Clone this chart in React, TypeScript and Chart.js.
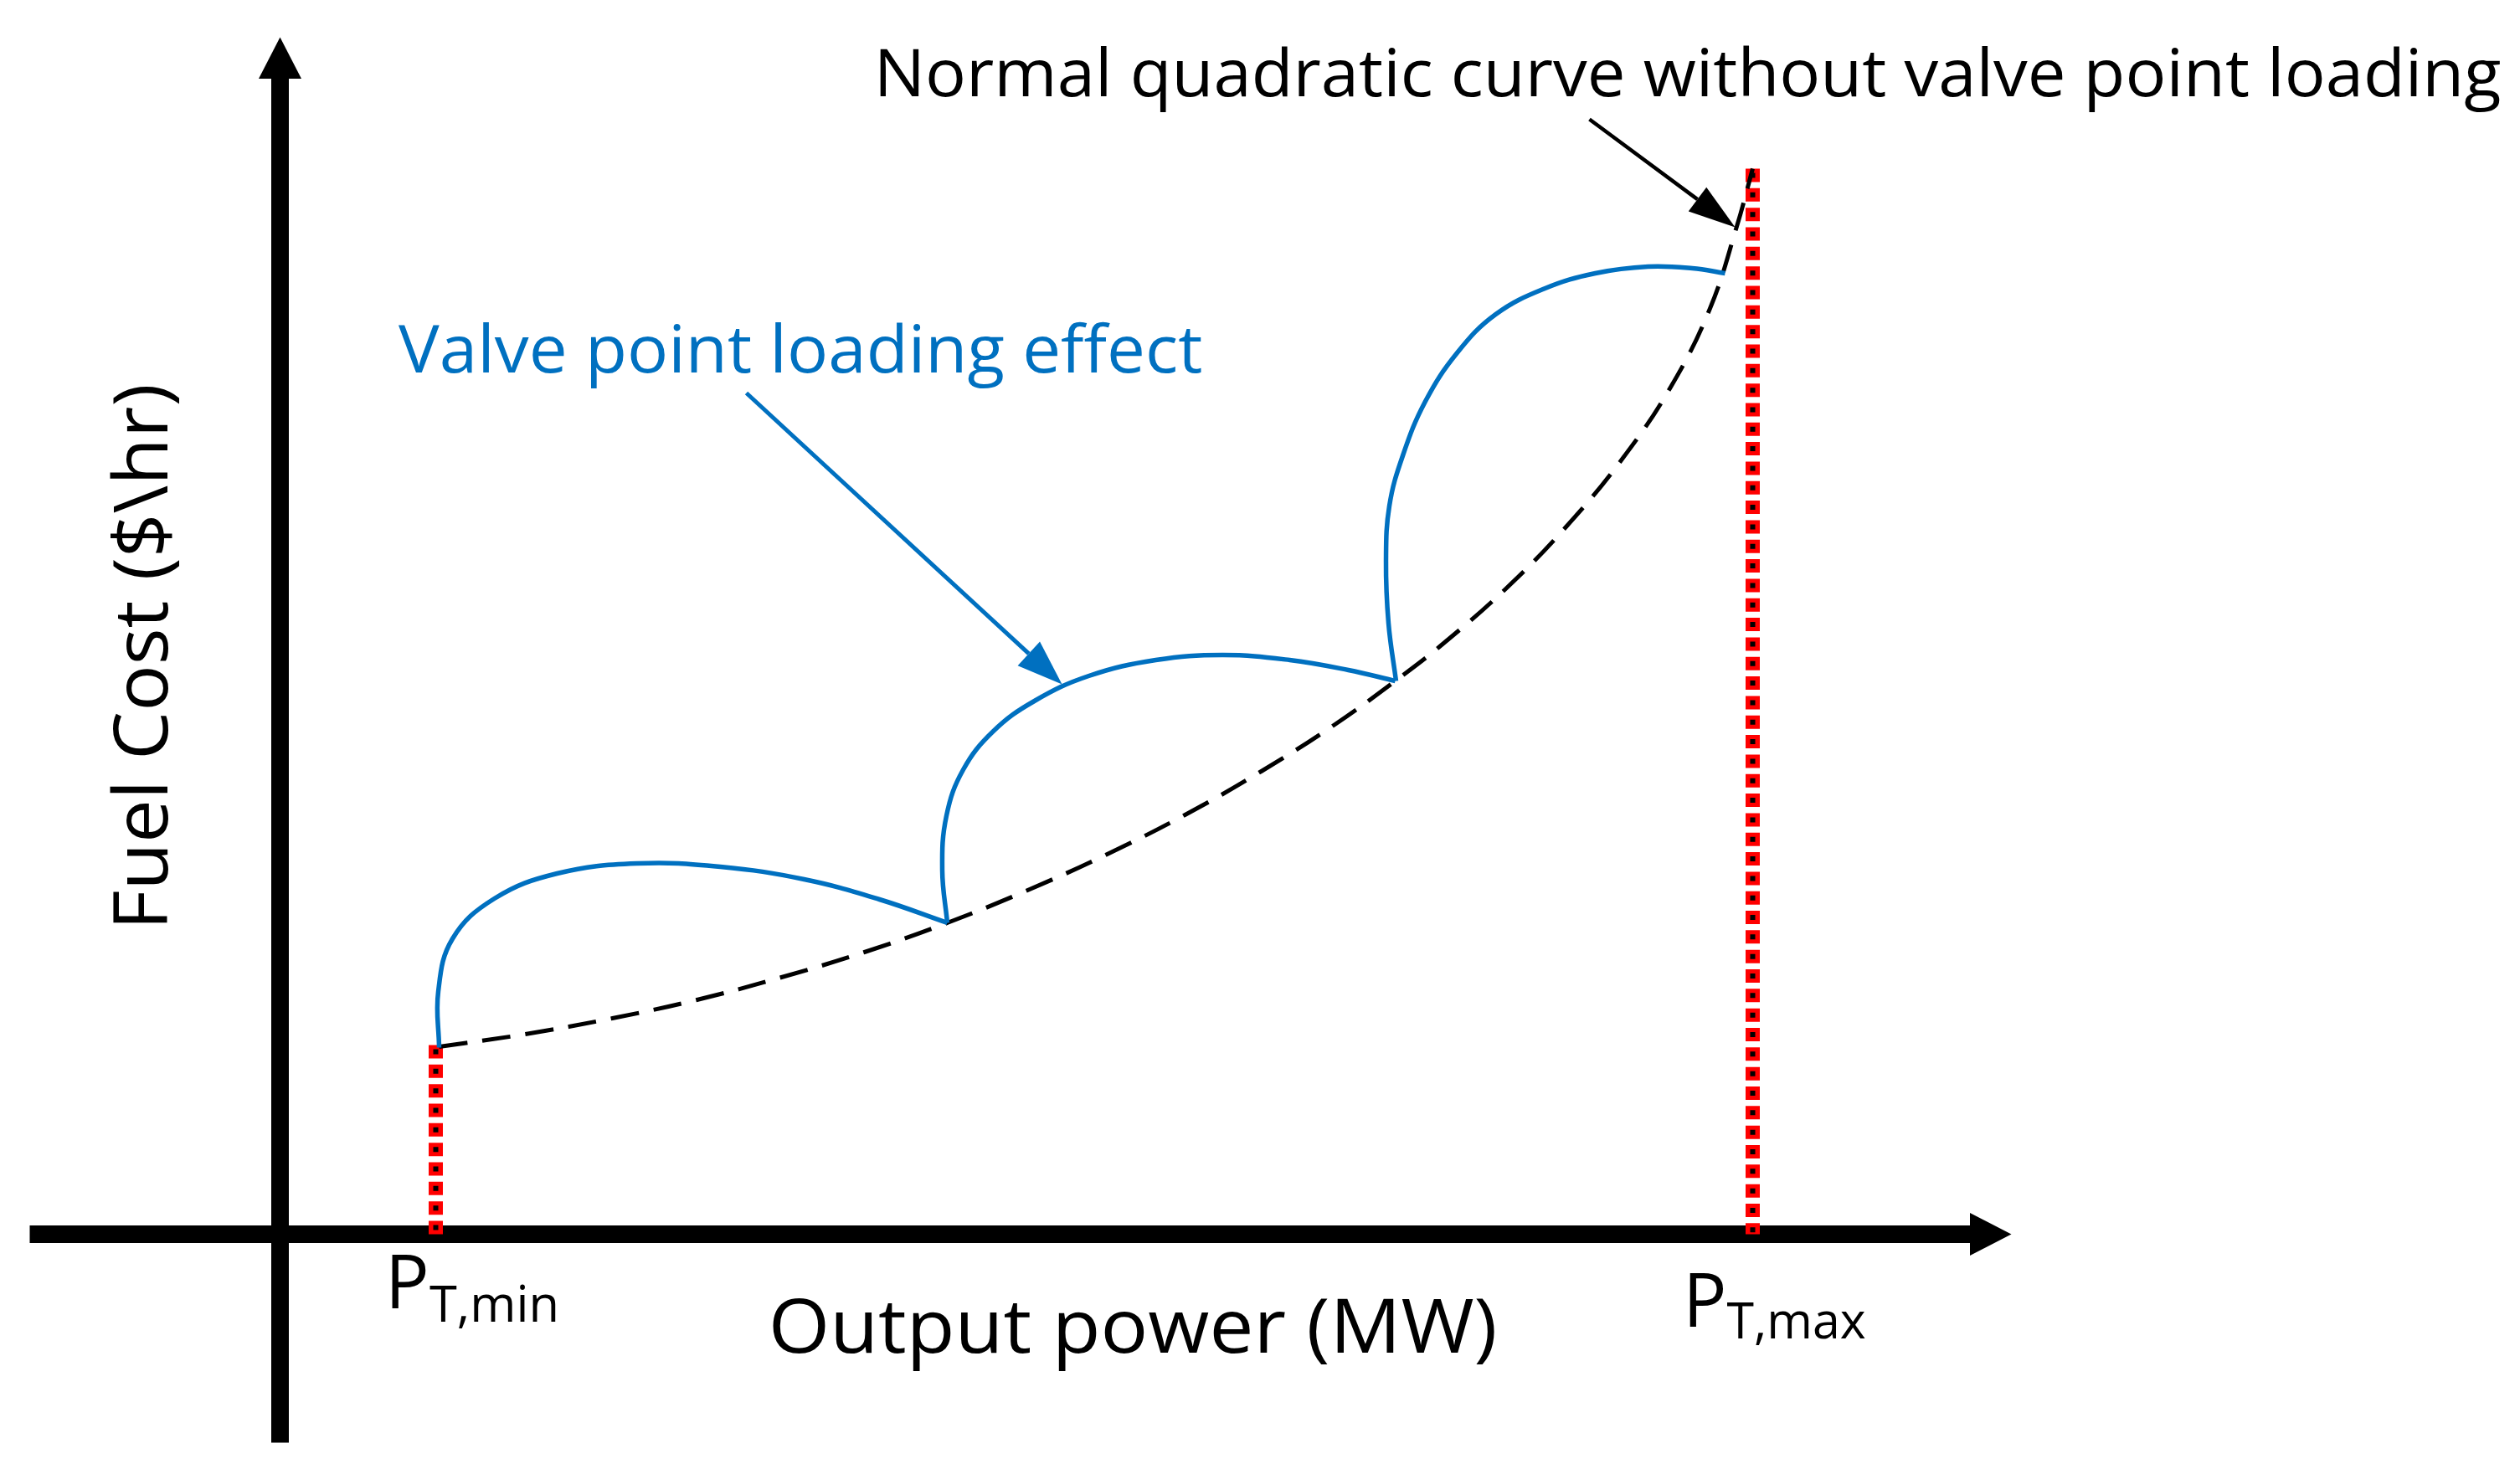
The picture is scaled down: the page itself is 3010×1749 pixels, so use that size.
import React, { useEffect, useRef } from "react";
import { Chart, registerables } from "chart.js";

Chart.register(...registerables);

// ---------------- data (x: output power, y: fuel cost; origin = axes crossing) ----------------
const quadCostX = [19.0, 29.3, 39.7, 49.8, 59.9, 69.8, 79.7, 89.3, 98.8, 108.1, 117.2, 126.0, 133.2, 138.5, 146.4, 153.6, 160.3, 166.1, 170.8, 174.0, 175.9];
const quadCostY = [22.4, 23.9, 25.8, 28.0, 30.7, 33.7, 37.2, 41.1, 45.4, 50.1, 55.3, 60.9, 66.1, 70.2, 77.1, 84.5, 92.6, 101.2, 110.6, 120.4, 127.3];

const valve1X = [19.0, 18.9, 20.6, 25.6, 33.1, 42.6, 52.6, 62.6, 71.6, 79.7];
const valve1Y = [22.3, 29.0, 35.3, 40.1, 43.1, 44.3, 43.9, 42.4, 40.0, 37.2];

const valve2X = [79.7, 79.1, 79.6, 81.6, 85.2, 90.1, 96.6, 104.6, 112.6, 120.6, 127.6, 133.2];
const valve2Y = [37.2, 43.5, 50.0, 55.5, 60.1, 63.7, 66.7, 68.6, 69.2, 68.6, 67.4, 66.1];

const valve3X = [133.3, 132.4, 132.1, 132.5, 134.1, 136.8, 140.6, 145.2, 151.1, 157.1, 163.4, 168.7, 172.6];
const valve3Y = [66.1, 73.0, 80.4, 87.0, 93.0, 99.5, 105.3, 109.9, 113.0, 114.8, 115.6, 115.4, 114.8];

// P_T,min and P_T,max markers (x position, top of the marker)
const pLimitX = [18.6, 175.9];
const pLimitTop = [22.6, 127.3];

// axes spans: [start, arrow tip]
const xAxisSpan = [-29.9, 206.8];
const yAxisSpan = [-24.9, 143.0];

// annotation arrows
const arrowFromX = [55.7, 156.4];
const arrowFromY = [100.5, 133.2];
const arrowToX = [93.4, 173.8];
const arrowToY = [65.7, 120.3];

// texts
const quadNote = "Normal quadratic curve without valve point loading";
const valveNote = "Valve point loading effect";
const xTitle = "Output power (MW)";
const yTitle = "Fuel Cost ($\\hr)";
const pSymbol = "P";
const pSubs = ["T,min", "T,max"];

// ---------------- style / layout ----------------
const FONT = '"Open Sans", "Noto Sans", sans-serif';
const BLUE = "#0070C0";
const RANGE = { xMin: -33.45, xMax: 267.55, yMin: -27.45, yMax: 147.45 };
const AXIS_HEAD = { len: 4.95, half: 2.55 };
const ARROW_STYLE = [
  { color: BLUE, width: 5, len: 5.4, half: 1.95 },
  { color: "#000000", width: 4.5, len: 5.6, half: 1.8 },
];

type Part = { t: string; rel?: number; dy?: number };
type TextItem = { parts: Part[]; x: number; y: number; cap: number; width: number; color: string; rotate?: boolean };

const TEXTS: TextItem[] = [
  { parts: [{ t: quadNote }], x: 71.65, y: 135.95, cap: 57, width: 1935, color: "#000" },
  { parts: [{ t: valveNote }], x: 14.15, y: 102.95, cap: 58, width: 959, color: BLUE },
  { parts: [{ t: xTitle }], x: 58.85, y: -14.15, cap: 65, width: 862, color: "#000" },
  { parts: [{ t: yTitle }], x: -13.45, y: 37.15, cap: 66, width: 642, color: "#000", rotate: true },
  { parts: [{ t: pSymbol }, { t: pSubs[0], rel: 0.68, dy: 16 }], x: 13.35, y: -8.85, cap: 65, width: 196, color: "#000" },
  { parts: [{ t: pSymbol }, { t: pSubs[1], rel: 0.68, dy: 14 }], x: 168.35, y: -11.05, cap: 65, width: 210, color: "#000" },
];

const pts = (xs: number[], ys: number[]) => xs.map((x, i) => ({ x, y: ys[i] }));

function shaftEnd(i: number) {
  const dx = arrowToX[i] - arrowFromX[i];
  const dy = arrowToY[i] - arrowFromY[i];
  const l = Math.hypot(dx, dy);
  const L = ARROW_STYLE[i].len;
  return { x: arrowToX[i] - (dx / l) * L, y: arrowToY[i] - (dy / l) * L };
}

function drawHead(ctx: CanvasRenderingContext2D, tx: number, ty: number, ux: number, uy: number, len: number, half: number, color: string) {
  const bx = tx - ux * len;
  const by = ty - uy * len;
  const nx = -uy, ny = ux;
  ctx.save();
  ctx.fillStyle = color;
  ctx.beginPath();
  ctx.moveTo(tx, ty);
  ctx.lineTo(bx + nx * half, by + ny * half);
  ctx.lineTo(bx - nx * half, by - ny * half);
  ctx.closePath();
  ctx.fill();
  ctx.restore();
}

function drawLabel(ctx: CanvasRenderingContext2D, x: number, y: number, item: TextItem) {
  ctx.save();
  ctx.font = `100px ${FONT}`;
  const capRatio = ctx.measureText("H").actualBoundingBoxAscent / 100 || 0.714;
  const size = item.cap / capRatio;
  let pen = 0;
  let inkLeft: number | null = null;
  let inkRight = 0;
  const starts: number[] = [];
  item.parts.forEach((p) => {
    ctx.font = `${size * (p.rel ?? 1)}px ${FONT}`;
    const m = ctx.measureText(p.t);
    if (inkLeft === null) inkLeft = pen - m.actualBoundingBoxLeft;
    inkRight = pen + m.actualBoundingBoxRight;
    starts.push(pen);
    pen += m.width;
  });
  const sx = item.width / (inkRight - (inkLeft ?? 0));
  ctx.translate(x, y);
  if (item.rotate) ctx.rotate(-Math.PI / 2);
  ctx.scale(sx, 1);
  ctx.translate(-(inkLeft ?? 0), 0);
  ctx.fillStyle = item.color;
  ctx.textAlign = "left";
  ctx.textBaseline = "alphabetic";
  item.parts.forEach((p, i) => {
    ctx.font = `${size * (p.rel ?? 1)}px ${FONT}`;
    ctx.fillText(p.t, starts[i], p.dy ?? 0);
  });
  ctx.restore();
}

const overlayPlugin = {
  id: "overlay",
  afterDatasetsDraw(chart: any) {
    const ctx: CanvasRenderingContext2D = chart.ctx;
    const xs = chart.scales.x;
    const ys = chart.scales.y;
    const px = (v: number) => xs.getPixelForValue(v);
    const py = (v: number) => ys.getPixelForValue(v);
    const unit = px(1) - px(0);

    // axis arrow heads
    drawHead(ctx, px(xAxisSpan[1]), py(0), 1, 0, AXIS_HEAD.len * unit, AXIS_HEAD.half * unit, "#000");
    drawHead(ctx, px(0), py(yAxisSpan[1]), 0, -1, AXIS_HEAD.len * unit, AXIS_HEAD.half * unit, "#000");

    // annotation arrow heads
    arrowToX.forEach((_, i) => {
      const tx = px(arrowToX[i]);
      const ty = py(arrowToY[i]);
      const fx = px(arrowFromX[i]);
      const fy = py(arrowFromY[i]);
      const l = Math.hypot(tx - fx, ty - fy);
      drawHead(ctx, tx, ty, (tx - fx) / l, (ty - fy) / l, ARROW_STYLE[i].len * unit, ARROW_STYLE[i].half * unit, ARROW_STYLE[i].color);
    });

    TEXTS.forEach((t) => drawLabel(ctx, px(t.x), py(t.y), t));
  },
};

export default function App() {
  const canvasRef = useRef<HTMLCanvasElement | null>(null);

  useEffect(() => {
    if (!canvasRef.current) return;
    const line = (data: any[], color: string, width: number, order: number, extra: any = {}) => ({
      data,
      borderColor: color,
      backgroundColor: color,
      borderWidth: width,
      pointRadius: 0,
      pointHoverRadius: 0,
      showLine: true,
      fill: false,
      tension: 0,
      order,
      ...extra,
    });

    const datasets: any[] = [
      line(pts([xAxisSpan[0], xAxisSpan[1] - AXIS_HEAD.len], [0, 0]), "#000", 21, 10),
      line(pts([0, 0], [yAxisSpan[0], yAxisSpan[1] - AXIS_HEAD.len]), "#000", 21, 10),
    ];
    pLimitX.forEach((x, i) => {
      datasets.push(line(pts([x, x], [pLimitTop[i], 0]), "#FF0000", 17, 7, { borderDash: [16, 7.33] }));
      datasets.push(line(pts([x, x], [pLimitTop[i], 0]), "#000000", 6, 6, { borderDash: [6, 17.33], borderDashOffset: -5 }));
    });
    datasets.push(line(pts(quadCostX, quadCostY), "#000", 5, 4, { borderDash: [34, 18], tension: 0.4 }));
    datasets.push(line(pts(valve1X, valve1Y), BLUE, 5.5, 2, { tension: 0.4 }));
    datasets.push(line(pts(valve2X, valve2Y), BLUE, 5.5, 2, { tension: 0.4 }));
    datasets.push(line(pts(valve3X, valve3Y), BLUE, 5.5, 2, { tension: 0.4 }));
    arrowFromX.forEach((_, i) => {
      const e = shaftEnd(i);
      datasets.push(line([{ x: arrowFromX[i], y: arrowFromY[i] }, e], ARROW_STYLE[i].color, ARROW_STYLE[i].width, 1));
    });

    const chart = new Chart(canvasRef.current, {
      type: "scatter",
      data: { datasets },
      options: {
        animation: false,
        responsive: true,
        maintainAspectRatio: false,
        layout: { padding: 0 },
        events: [],
        plugins: { legend: { display: false }, tooltip: { enabled: false }, title: { display: false } },
        scales: {
          x: { type: "linear", min: RANGE.xMin, max: RANGE.xMax, display: false },
          y: { type: "linear", min: RANGE.yMin, max: RANGE.yMax, display: false },
        },
      },
      plugins: [overlayPlugin],
    } as any);
    return () => chart.destroy();
  }, []);

  return (
    <div style={{ position: "fixed", left: 0, top: 0, width: "3010px", height: "1749px", background: "#fff" }}>
      <canvas ref={canvasRef} />
    </div>
  );
}
